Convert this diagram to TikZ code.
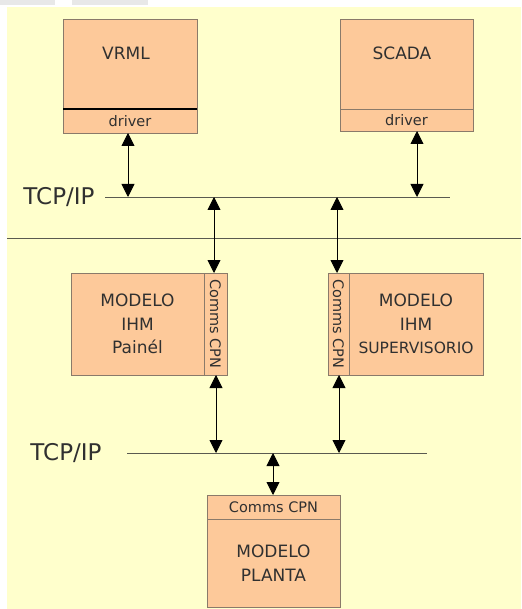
\documentclass[tikz,border=0pt]{standalone}
\usepackage{fontspec}
\setmainfont{DejaVu Sans}
\usetikzlibrary{arrows.meta}
\definecolor{paper}{HTML}{FFFFCC}
\definecolor{boxfill}{HTML}{FDC99A}
\definecolor{boxline}{HTML}{8A7A6A}
\definecolor{ink}{HTML}{303030}
\definecolor{busline}{HTML}{5A5A50}
\tikzset{
  block/.style={draw=boxline, line width=0.9pt, fill=boxfill, inner sep=0pt, outer sep=0pt,
    text=ink, align=center, font=\fontsize{17}{23.5}\selectfont},
  strip/.style={block, font=\fontsize{14.5}{16}\selectfont},
  title/.style={text=ink, inner sep=0pt, font=\fontsize{17}{20}\selectfont},
  bus/.style={draw=busline, line width=0.9pt},
  link/.style={draw=black, line width=0.9pt, {Triangle[width=13pt,length=13pt]}-{Triangle[width=13pt,length=13pt]}},
  netlabel/.style={text=ink, inner sep=0pt, font=\fontsize{23}{26}\selectfont}
}
\begin{document}
\begin{tikzpicture}[x=1pt,y=-1pt]
  % canvas
  \useasboundingbox (0,0) rectangle (521,609);
  \fill[white] (0,0) rectangle (521,609);
  \fill[black!9] (0,0) rectangle (55,5);
  \fill[black!9] (72,0) rectangle (148,5);
  \fill[paper] (7,7) rectangle (521,609);

  % upper applications
  \node[block, minimum width=134pt, minimum height=90pt] (vrml) at (130,64) {};
  \node[title] (vrmlT) at (126,53) {VRML};
  \node[strip, minimum width=134pt, minimum height=24pt] (vrmlDrv) at (130,121) {driver};
  \draw[black, line width=1.2pt] (vrmlDrv.north west) -- (vrmlDrv.north east);

  \node[block, minimum width=133pt, minimum height=90pt] (scada) at (406.5,64) {};
  \node[title] (scadaT) at (402,53) {SCADA};
  \node[strip, minimum width=133pt, minimum height=22pt] (scadaDrv) at (406.5,120) {driver};

  % first network
  \coordinate (bus1W) at (105,197);
  \coordinate (bus1E) at (450,197);
  \draw[bus] (bus1W) -- (bus1E);
  \node[netlabel] (net1) at (59,197) {TCP/IP};
  \coordinate (b1v) at (128,197);
  \coordinate (b1s) at (417,197);
  \coordinate (b1p) at (214,197);
  \coordinate (b1q) at (337,197);

  % separator
  \coordinate (sepW) at (7,238);
  \coordinate (sepE) at (521,238);
  \draw[bus] (sepW) -- (sepE);

  % HMI models
  \node[block, minimum width=133pt, minimum height=102pt] (painel) at (137.5,324)
    {MODELO\\IHM\\Painél};
  \node[strip, minimum width=23pt, minimum height=102pt] (painelCom) at (215.5,324)
    {\rotatebox{-90}{Comms CPN}};

  \node[strip, minimum width=21pt, minimum height=102pt] (superCom) at (338.5,324)
    {\rotatebox{-90}{Comms CPN}};
  \node[block, minimum width=134pt, minimum height=102pt] (super) at (416,324)
    {MODELO\\IHM\\{\fontsize{15.5}{18}\selectfont SUPERVISORIO}};

  % second network
  \coordinate (bus2W) at (127,453);
  \coordinate (bus2E) at (427,453);
  \draw[bus] (bus2W) -- (bus2E);
  \node[netlabel] (net2) at (66,453) {TCP/IP};
  \coordinate (b2p) at (216,453);
  \coordinate (b2q) at (339,453);
  \coordinate (b2m) at (273,453);

  % plant model
  \node[strip, minimum width=133pt, minimum height=24pt] (plantaCom) at (273.5,507) {Comms CPN};
  \node[block, minimum width=133pt, minimum height=88pt] (planta) at (273.5,563)
    {MODELO\\PLANTA};

  % links
  \draw[link] (vrmlDrv.south -| b1v) -- (b1v);
  \draw[link] (scadaDrv.south -| b1s) -- (b1s);
  \draw[link] (b1p) -- (painelCom.north -| b1p);
  \draw[link] (b1q) -- (superCom.north -| b1q);
  \draw[link] (painelCom.south -| b2p) -- (b2p);
  \draw[link] (superCom.south -| b2q) -- (b2q);
  \draw[link] (b2m) -- (plantaCom.north -| b2m);
\end{tikzpicture}
\end{document}
